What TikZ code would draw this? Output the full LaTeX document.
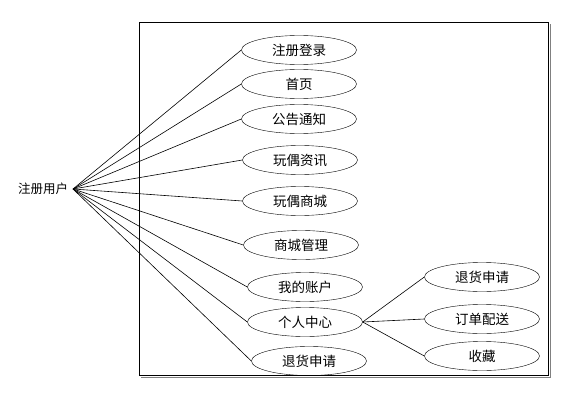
\documentclass[tikz,border=0pt]{standalone}
\usepackage{fontspec}
\setmainfont{Noto Sans CJK SC}
\usetikzlibrary{shapes.geometric}
\begin{document}
\begin{tikzpicture}[x=1pt,y=-1pt,
  uc/.style={draw,ellipse,minimum width=115pt,minimum height=29pt,inner sep=0pt,font=\fontsize{13.5}{15}\selectfont},
  ln/.style={draw,line width=0.6pt}]
\useasboundingbox (0,0) rectangle (585,417);
\draw[gray,line width=1pt] (141,377) -- (550,377) -- (550,24);
\draw[line width=0.7pt] (139,22) rectangle (548,375);
\node[font=\fontsize{12.5}{14}\selectfont] (u) at (43,189) {注册用户};
\coordinate (c) at (73,189);
\node[uc] (a1) at (299,50) {注册登录};
\node[uc] (a2) at (299,84) {首页};
\node[uc] (a3) at (299,119) {公告通知};
\node[uc] (a4) at (300,160) {玩偶资讯};
\node[uc] (a5) at (300,201) {玩偶商城};
\node[uc] (a6) at (301,245) {商城管理};
\node[uc] (a7) at (305,287) {我的账户};
\node[uc] (a8) at (305,322) {个人中心};
\node[uc] (a9) at (309,361) {退货申请};
\node[uc] (b1) at (482,277) {退货申请};
\node[uc] (b2) at (482,319) {订单配送};
\node[uc] (b3) at (482,356) {收藏};
\foreach \n in {a1,a2,a3,a4,a5,a6,a7,a8,a9}
  \draw[ln] (c) -- (\n.west);
\foreach \n in {b1,b2,b3}
  \draw[ln] (a8.east) -- (\n.west);
\end{tikzpicture}
\end{document}
